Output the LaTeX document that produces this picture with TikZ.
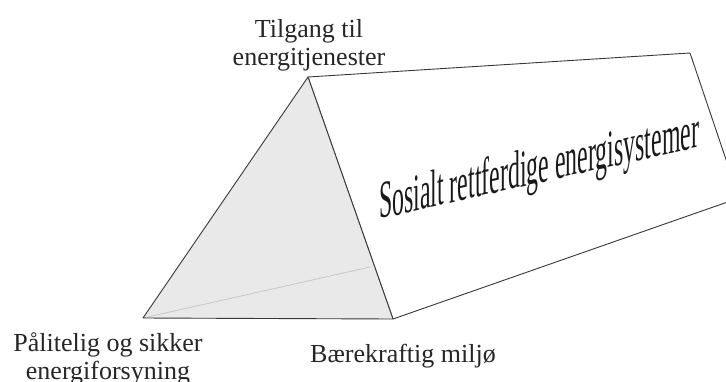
\documentclass[tikz,border=0pt]{standalone}
\usepackage{fontspec}
\setmainfont{Liberation Serif}
\begin{document}
\begin{tikzpicture}[x=1pt,y=-1pt,
  edge/.style={draw=black!78,line width=0.9pt,line join=round},
  lbl/.style={inner sep=0pt,align=center,font=\fontsize{26}{28}\selectfont,text=black!85}]
\useasboundingbox (0,0) rectangle (726,381);
\clip (0,0) rectangle (726,381);
\coordinate (A) at (308,77);
\coordinate (B) at (143,318);
\coordinate (C) at (393,319);
\coordinate (D) at (690,53);
\coordinate (E) at (739,198);
\coordinate (H) at (370,267);
% right face
\path[edge,fill=white] (A) -- (D) -- (E) -- (C) -- cycle;
% front triangle
\path[fill={rgb,255:red,233;green,233;blue,233}] (A) -- (B) -- (C) -- cycle;
\draw[draw={rgb,255:red,200;green,200;blue,200},line width=0.8pt] (B) -- (H);
\path[edge] (A) -- (B) -- (C) -- cycle;
% big text
\node[anchor=base west,inner sep=0pt,yslant=0.225,xscale=0.45,
  font=\fontsize{53}{53}\selectfont,text=black!90] (title) at (379,219)
  {Sosialt rettferdige energisystemer};
% labels
\node[lbl,anchor=base] (top) at (309,65) {Tilgang til\\energitjenester};
\node[lbl,anchor=base] (left) at (108,379) {Pålitelig og sikker\\energiforsyning};
\node[lbl,anchor=base] (right) at (403,362) {Bærekraftig miljø};
\end{tikzpicture}
\end{document}
